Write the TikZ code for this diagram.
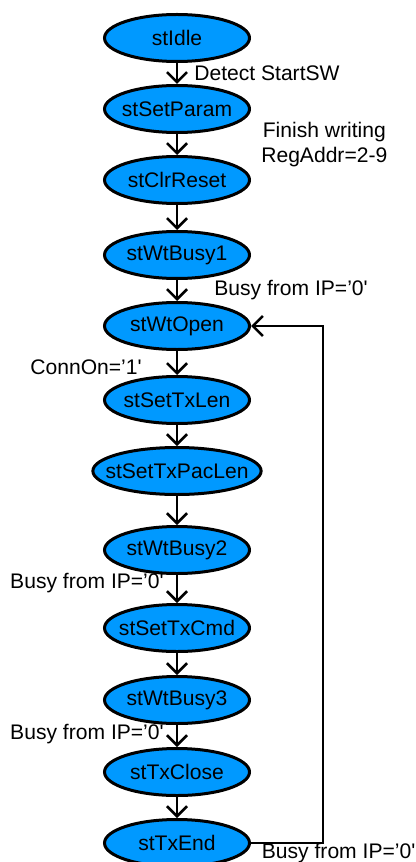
\documentclass[tikz,border=0pt]{standalone}
\usepackage{fontspec}
\setmainfont{Liberation Sans}
\usepackage{tikz}
\usetikzlibrary{shapes.geometric, arrows.meta, positioning}
\definecolor{stblue}{RGB}{0,153,255}

\begin{document}
\begin{tikzpicture}[x=0.25mm, y=-0.25mm, font=\fontsize{15}{18}\selectfont]
        % Setup the style for the states
        \tikzset{state style/.style={ellipse,
                                     draw,
                                     line width=0.75mm,
                                     fill=stblue,
                                     minimum width=36.25mm,
                                     minimum height=11.75mm,
                                     inner xsep=-3mm,
                                     inner ysep=0pt},
                 cond/.style={inner sep=0pt, align=center}}

        \useasboundingbox (0,0) rectangle (415,862);

        % Draw the states
        \node[state style] at (177, 38)  (idle)        {stIdle};
        \node[state style] at (177, 109) (setparam)    {stSetParam};
        \node[state style] at (177, 180) (clrreset)    {stClrReset};
        \node[state style] at (177, 255) (wtbusy1)     {stWtBusy1};
        \node[state style] at (177, 326) (wtopen)      {stWtOpen};
        \node[state style] at (177, 400) (settxlen)    {stSetTxLen};
        \node[state style] at (177, 471) (settxpaclen) {stSetTxPacLen};
        \node[state style] at (177, 550) (wtbusy2)     {stWtBusy2};
        \node[state style] at (177, 628) (settxcmd)    {stSetTxCmd};
        \node[state style] at (177, 700) (wtbusy3)     {stWtBusy3};
        \node[state style] at (177, 772) (txclose)     {stTxClose};
        \node[state style] at (177, 843) (txend)       {stTxEnd};
        \coordinate (back) at (323, 326);

        % Connect the states with arrows
        \draw[line width=0.65mm,
              >={Straight Barb[length=2.5mm, width=5mm]},
              ->]
            (idle)        edge node[cond, anchor=west, xshift=4mm] (cdetect) {Detect StartSW} (setparam)
            (setparam)    edge node[cond, anchor=west, xshift=20.75mm] (cfinish) {Finish writing\\RegAddr=2-9} (clrreset)
            (clrreset)    edge (wtbusy1)
            (wtbusy1)     edge node[cond, anchor=west, xshift=9mm] (cbusya) {Busy from IP=’0\textquotesingle} (wtopen)
            (wtopen)      edge node[cond, anchor=east, xshift=-8.5mm, yshift=-1.1mm] (cconn) {ConnOn=’1\textquotesingle} (settxlen)
            (settxlen)    edge (settxpaclen)
            (settxpaclen) edge (wtbusy2)
            (wtbusy2)     edge node[cond, anchor=east, xshift=-3mm, yshift=1.5mm] (cbusyb) {Busy from IP=’0\textquotesingle} (settxcmd)
            (settxcmd)    edge (wtbusy3)
            (wtbusy3)     edge node[cond, anchor=east, xshift=-3mm, yshift=0.6mm] (cbusyc) {Busy from IP=’0\textquotesingle} (txclose)
            (txclose)     edge (txend);

        % Back to stWtOpen
        \draw[line width=0.65mm,
              >={Straight Barb[length=2.5mm, width=5mm]},
              ->]
            (txend.east) node[cond, anchor=west, xshift=2.4mm, yshift=-2.5mm] (cbusyd) {Busy from IP=’0\textquotesingle}
            -| (back) -- (wtopen.east);
\end{tikzpicture}
\end{document}
